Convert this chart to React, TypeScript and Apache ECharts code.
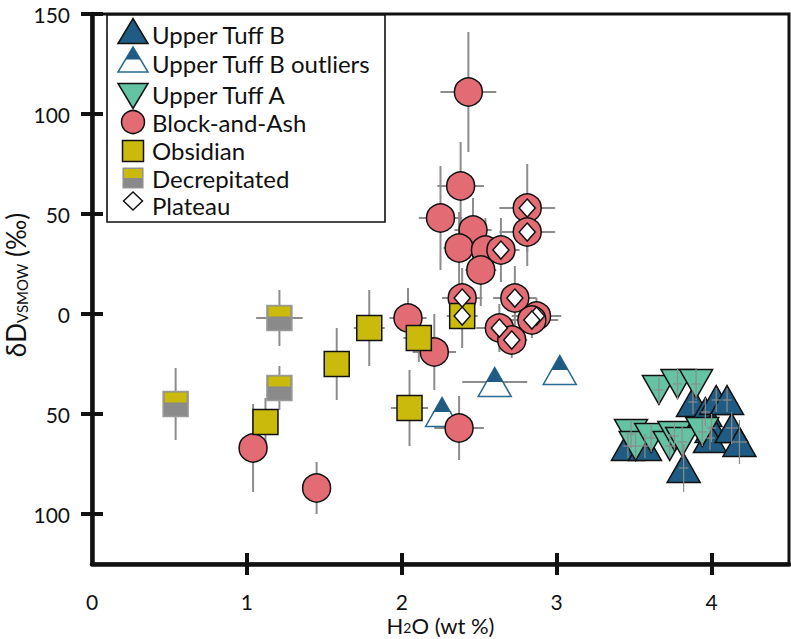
import React, { useEffect, useRef } from "react";
import * as echarts from "echarts";

const FONT = "Lato, 'Open Sans', sans-serif";

// [H2O wt%, δD ‰, H2O error, δD error]
const upperTuffB = [
  [3.46, -66, 0.03, 6],
  [3.57, -66, 0.03, 6],
  [3.88, -44, 0.03, 6],
  [3.96, -49, 0.03, 7],
  [4.03, -43, 0.03, 6],
  [4.1, -43, 0.03, 6],
  [4.0, -57, 0.03, 7],
  [3.99, -62, 0.03, 6],
  [4.13, -57, 0.04, 8],
  [4.18, -64, 0.05, 11],
  [3.82, -77, 0.03, 12],
];
const upperTuffBOutliers = [
  [2.26, -49, 0.06, 5],
  [2.6, -34, 0.21, 5],
  [3.02, -28, 0.04, 4],
];
const upperTuffA = [
  [3.66, -38, 0.03, 7],
  [3.78, -35, 0.03, 8],
  [3.9, -35, 0.03, 8],
  [3.48, -60, 0.03, 7],
  [3.51, -66, 0.03, 6],
  [3.61, -62, 0.03, 7],
  [3.73, -66, 0.03, 6],
  [3.76, -61, 0.03, 7],
  [3.81, -64, 0.03, 8],
  [3.94, -59, 0.03, 7],
];
const blockAndAsh = [
  [2.43, 111, 0.18, 30],
  [2.38, 64, 0.15, 22],
  [2.25, 48, 0.14, 26],
  [2.46, 42, 0.12, 16],
  [2.37, 33, 0.1, 18],
  [2.54, 32, 0.1, 16],
  [2.51, 22, 0.1, 18],
  [2.64, 32, 0.12, 16],
  [2.81, 53, 0.18, 22],
  [2.81, 41, 0.18, 17],
  [2.39, 8, 0.13, 15],
  [2.73, 8, 0.14, 16],
  [2.87, -1, 0.16, 9],
  [2.84, -3, 0.17, 9],
  [2.63, -7, 0.15, 12],
  [2.71, -13, 0.1, 9],
  [2.04, -2, 0.12, 15],
  [2.21, -19, 0.14, 19],
  [2.37, -57, 0.16, 16],
  [1.04, -67, 0.06, 22],
  [1.45, -87, 0.05, 13],
];
const obsidian = [
  [1.79, -7, 0.1, 19],
  [1.58, -25, 0.06, 18],
  [2.11, -12, 0.1, 12],
  [2.05, -47, 0.12, 19],
  [1.12, -54, 0.07, 12],
  [2.39, -1, 0.1, 16],
];
const decrepitated = [
  [1.21, -2, 0.15, 14],
  [1.21, -37, 0.06, 11],
  [0.54, -45, 0.05, 18],
];
const plateau = [
  [2.81, 53],
  [2.81, 41],
  [2.64, 32],
  [2.39, 8],
  [2.73, 8],
  [2.87, -1],
  [2.84, -3],
  [2.63, -7],
  [2.71, -13],
  [2.39, -1],
];
const xLabelValues = [0, 1, 2, 3, 4];
const xTickValues = [1, 2, 3, 4];
const yTickValues = [-100, -50, 0, 50, 100, 150];

const C_UTB = "#1F5B82";
const C_UTA = "#63C3A3";
const C_BA = "#E26B74";
const C_OBS = "#C9BA0B";
const C_GRAY = "#8A8A8A";

const errRender = (lw: number) => (params: any, api: any) => {
  const x = api.value(0);
  const y = api.value(1);
  const xe = api.value(2);
  const ye = api.value(3);
  const l = api.coord([x - xe, y]);
  const r = api.coord([x + xe, y]);
  const t = api.coord([x, y + ye]);
  const b = api.coord([x, y - ye]);
  const style = { stroke: "#8c8c8c", lineWidth: lw };
  return {
    type: "group",
    children: [
      { type: "line", shape: { x1: l[0], y1: l[1], x2: r[0], y2: r[1] }, style },
      { type: "line", shape: { x1: t[0], y1: t[1], x2: b[0], y2: b[1] }, style },
    ],
  };
};

const xy = (arr: number[][]) => arr.map((d) => [d[0], d[1]]);

function legendGraphic() {
  const tx = 152;
  const ix = 133;
  const textStyle = (text: string, y: number) => ({
    type: "text",
    x: tx,
    y,
    style: { text, font: `24px ${FONT}`, lineHeight: 22, fill: "#111", align: "left", verticalAlign: "middle" },
  });
  const stroke = "#111";
  return {
    type: "group",
    children: [
      { type: "rect", shape: { x: 107, y: 15, width: 278, height: 207 }, style: { fill: "#fff", stroke: "#111", lineWidth: 1.6 } },
      { type: "polygon", shape: { points: [[118, 43.5], [148, 43.5], [133, 18.5]] }, style: { fill: C_UTB, stroke, lineWidth: 1.5 } },
      { type: "polygon", shape: { points: [[118, 72], [148, 72], [133, 47]] }, style: { fill: "#fff", stroke: "#2A6A93", lineWidth: 1.5 } },
      { type: "polygon", shape: { points: [[125.5, 59.5], [140.5, 59.5], [133, 47]] }, style: { fill: C_UTB } },
      { type: "polygon", shape: { points: [[118, 83.5], [148, 83.5], [133, 108.5]] }, style: { fill: C_UTA, stroke, lineWidth: 1.5 } },
      { type: "circle", shape: { cx: ix, cy: 122, r: 11.5 }, style: { fill: C_BA, stroke, lineWidth: 1.5 } },
      { type: "rect", shape: { x: ix - 10.5, y: 140.5, width: 21, height: 21 }, style: { fill: C_OBS, stroke, lineWidth: 1.5 } },
      { type: "rect", shape: { x: ix - 10, y: 168, width: 20, height: 20 }, style: { fill: C_GRAY, stroke: "#999", lineWidth: 1.2 } },
      { type: "rect", shape: { x: ix - 9, y: 169, width: 18, height: 9 }, style: { fill: C_OBS } },
      { type: "polygon", shape: { points: [[ix, 192], [ix + 9.5, 201], [ix, 210], [ix - 9.5, 201]] }, style: { fill: "#fff", stroke, lineWidth: 1.5 } },
      textStyle("Upper Tuff B", 34),
      textStyle("Upper Tuff B outliers", 63),
      textStyle("Upper Tuff A", 94),
      textStyle("Block-and-Ash", 122),
      textStyle("Obsidian", 150),
      textStyle("Decrepitated", 178),
      textStyle("Plateau", 205),
    ],
  };
}

export default function App() {
  const ref = useRef<HTMLDivElement>(null);
  useEffect(() => {
    document.body.style.margin = "0";
    const chart = echarts.init(ref.current!, null, { renderer: "svg" });
    const axisCommon = {
      type: "value",
      splitLine: { show: false },
      axisLine: { show: true, onZero: false, lineStyle: { color: "#111", width: 4.5 } },
    };
    const option: any = {
      animation: false,
      backgroundColor: "#fff",
      grid: {
        left: 92,
        right: 2,
        top: 14,
        bottom: 75,
        containLabel: false,
        outerBoundsMode: "none",
        show: true,
        borderColor: "#111",
        borderWidth: 3,
        backgroundColor: "transparent",
      },
      xAxis: [
        {
          ...axisCommon,
          min: 0,
          max: 4.5,
          interval: 1,
          position: "bottom",
          axisTick: { show: true, length: 11, lineStyle: { color: "#111", width: 4 }, customValues: xTickValues },
          axisLabel: { customValues: xLabelValues, fontSize: 21, fontFamily: FONT, color: "#111", margin: 27 },
          name: "{a|H}{s|2}{a|O (wt %)}",
          nameLocation: "middle",
          nameGap: 50,
          nameMoveOverlap: false,
          nameTextStyle: {
            rich: {
              a: { fontSize: 22, fontFamily: FONT, color: "#111", lineHeight: 20, padding: [0, 0, 4, 0], verticalAlign: "top" },
              s: { fontSize: 14, fontFamily: FONT, color: "#111", lineHeight: 12, verticalAlign: "bottom" },
            },
          },
        },
        {
          ...axisCommon,
          min: 0,
          max: 4.5,
          interval: 1,
          position: "bottom",
          axisLine: { show: false, onZero: false },
          axisTick: { show: true, inside: true, length: 11, lineStyle: { color: "#111", width: 4 }, customValues: xTickValues },
          axisLabel: { show: false },
        },
      ],
      yAxis: [
        {
          ...axisCommon,
          min: -125,
          max: 150,
          position: "left",
          axisTick: { show: true, length: 11, lineStyle: { color: "#111", width: 4 }, customValues: yTickValues },
          axisLabel: {
            customValues: yTickValues,
            fontSize: 21,
            fontFamily: FONT,
            color: "#111",
            margin: 22,
            formatter: (v: number) => String(Math.abs(v)),
          },
        },
        {
          ...axisCommon,
          min: -125,
          max: 150,
          position: "left",
          axisLine: { show: false, onZero: false },
          axisTick: { show: true, inside: true, length: 11, lineStyle: { color: "#111", width: 4 }, customValues: yTickValues },
          axisLabel: { show: false },
        },
      ],
      graphic: [
        {
          type: "text",
          x: 16,
          y: 285,
          rotation: Math.PI / 2,
          style: {
            text: "{a|δD}{s|VSMOW}{a| (‰)}",
            align: "center",
            verticalAlign: "middle",
            rich: {
              a: { fontSize: 26, fontFamily: FONT, fill: "#111", lineHeight: 26, padding: [0, 0, 5, 0], verticalAlign: "top" },
              s: { fontSize: 15, fontFamily: FONT, fill: "#111", lineHeight: 15, verticalAlign: "bottom" },
            },
          },
        },
        legendGraphic(),
      ],
      series: [
        { type: "custom", name: "errA", renderItem: errRender(2), data: [...blockAndAsh, ...obsidian, ...decrepitated], encode: { x: 0, y: 1 }, z: 1, silent: true },
        { type: "custom", name: "errOut", renderItem: errRender(2), data: upperTuffBOutliers, encode: { x: 0, y: 1 }, z: 1, silent: true },
        {
          type: "scatter",
          name: "Upper Tuff B",
          data: xy(upperTuffB),
          symbol: "triangle",
          symbolSize: [33, 29],
          itemStyle: { color: C_UTB, borderColor: "#111", borderWidth: 1.5, opacity: 1 },
          z: 2,
        },
        {
          type: "scatter",
          name: "Upper Tuff B outliers",
          data: xy(upperTuffBOutliers),
          symbol: "triangle",
          symbolSize: [33, 29],
          itemStyle: { color: "#fff", borderColor: "#2A6A93", borderWidth: 1.5, opacity: 1 },
          z: 2,
        },
        {
          type: "scatter",
          name: "Upper Tuff B outliers top",
          data: xy(upperTuffBOutliers),
          symbol: "triangle",
          symbolSize: [16.5, 14.5],
          symbolOffset: [0, -7.25],
          itemStyle: { color: C_UTB, opacity: 1 },
          z: 2,
        },
        {
          type: "scatter",
          name: "Upper Tuff A",
          data: xy(upperTuffA),
          symbol: "triangle",
          symbolRotate: 180,
          symbolSize: [33, 29],
          itemStyle: { color: C_UTA, borderColor: "#111", borderWidth: 1.5, opacity: 1 },
          z: 2,
        },
        {
          type: "scatter",
          name: "Block-and-Ash",
          data: xy(blockAndAsh),
          symbol: "circle",
          symbolSize: 28,
          itemStyle: { color: C_BA, borderColor: "#111", borderWidth: 1.5, opacity: 1 },
          z: 2,
        },
        {
          type: "scatter",
          name: "Obsidian",
          data: xy(obsidian),
          symbol: "rect",
          symbolSize: 25,
          itemStyle: { color: C_OBS, borderColor: "#111", borderWidth: 1.5, opacity: 1 },
          z: 2,
        },
        {
          type: "scatter",
          name: "Decrepitated",
          data: xy(decrepitated),
          symbol: "rect",
          symbolSize: 25,
          itemStyle: { color: C_GRAY, borderColor: "#9a9a9a", borderWidth: 1.5, opacity: 1 },
          z: 2,
        },
        {
          type: "scatter",
          name: "Decrepitated top",
          data: xy(decrepitated),
          symbol: "rect",
          symbolSize: [22, 10],
          symbolOffset: [0, -6.5],
          itemStyle: { color: C_OBS, opacity: 1 },
          z: 2,
        },
        {
          type: "scatter",
          name: "Plateau",
          data: plateau,
          symbol: "diamond",
          symbolSize: [16, 18],
          itemStyle: { color: "#fff", borderColor: "#111", borderWidth: 1.5, opacity: 1 },
          z: 2,
        },
        { type: "custom", name: "errUT", renderItem: errRender(1.2), data: [...upperTuffB, ...upperTuffA], encode: { x: 0, y: 1 }, z: 3, silent: true },
      ],
    };
    chart.setOption(option);
    return () => chart.dispose();
  }, []);
  return <div ref={ref} style={{ width: 791, height: 639 }} />;
}
